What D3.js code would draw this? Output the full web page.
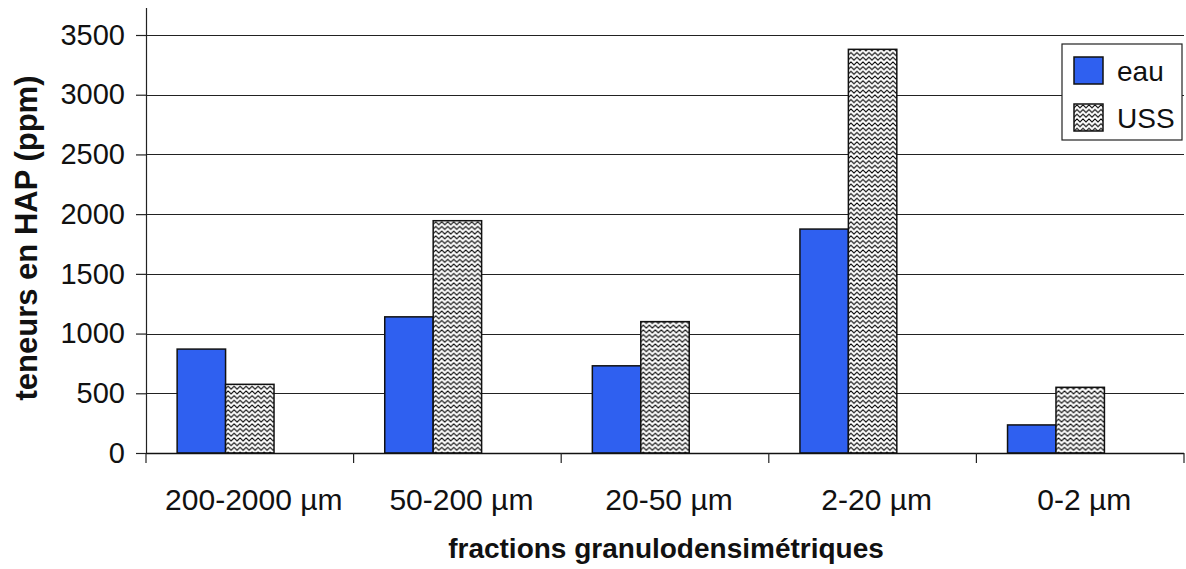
<!DOCTYPE html>
<html>
<head>
<meta charset="utf-8">
<script src="https://cdn.jsdelivr.net/npm/d3@7"></script>
<style>
    body { margin: 0; background: #fff; }
    text { font-family: "Liberation Sans", Arial, sans-serif; fill: #111; }
</style>
</head>
<body>
<div id="chart"></div>
<script>
// data
var categories = ["200-2000 µm", "50-200 µm", "20-50 µm", "2-20 µm", "0-2 µm"];
var seriesNames = ["eau", "USS"];
var eauValues = [870, 1140, 730, 1875, 235];
var ussValues = [575, 1945, 1100, 3380, 550];
var yTicks = [0, 500, 1000, 1500, 2000, 2500, 3000, 3500];

var width = 1186, height = 569;
var margin = {top: 35, right: 2, bottom: 116, left: 146};

var svg = d3.select("#chart").append("svg")
    .attr("width", width)
    .attr("height", height);

// zigzag hatch used by the USS series
var defs = svg.append("defs");
var pat = defs.append("pattern")
    .attr("id", "zigzag")
    .attr("patternUnits", "userSpaceOnUse")
    .attr("width", 6)
    .attr("height", 4.7);
pat.append("rect").attr("width", 6).attr("height", 4.7).attr("fill", "#fff");
pat.append("path")
    .attr("d", "M-1.5,2.45 L0,3.9 L3,0.9 L6,3.9 L7.5,2.45")
    .attr("fill", "none")
    .attr("stroke", "#000")
    .attr("stroke-width", 1.1)
    .attr("stroke-linejoin", "round");

var fills = {"eau": "#2f60f0", "USS": "url(#zigzag)"};

var data = categories.map(function (c, i) {
    return {cat: c, values: [{key: "eau", v: eauValues[i]}, {key: "USS", v: ussValues[i]}]};
});

var x0 = d3.scaleBand()
    .domain(categories)
    .range([margin.left, width - margin.right])
    .paddingInner(0.3)
    .paddingOuter(0.15);

// three slots per group, the last one stays empty like in the original sheet
var x1 = d3.scaleBand()
    .domain(seriesNames.concat(["_"]))
    .range([0, x0.bandwidth()]);

var y = d3.scaleLinear()
    .domain([0, 3500])
    .range([height - margin.bottom, margin.top]);

var step = x0.step();
var plotLeft = margin.left, plotRight = width - margin.right;

//horizontal grid lines
svg.append("g")
    .attr("class", "grid")
    .selectAll("line")
    .data(yTicks.filter(function (d) { return d > 0; }))
    .enter()
    .append("line")
    .attr("x1", plotLeft)
    .attr("x2", plotRight)
    .attr("y1", function (d) { return Math.round(y(d)) + 0.5; })
    .attr("y2", function (d) { return Math.round(y(d)) + 0.5; })
    .attr("stroke", "#222")
    .attr("stroke-width", 1.2);

//bars
var group = svg.append("g").attr("id", "bars")
    .selectAll("g")
    .data(data)
    .enter()
    .append("g")
    .attr("transform", function (d) { return "translate(" + x0(d.cat) + ",0)"; });

group.selectAll("rect")
    .data(function (d) { return d.values; })
    .enter()
    .append("rect")
    .attr("x", function (d) { return x1(d.key); })
    .attr("y", function (d) { return y(d.v); })
    .attr("width", x1.bandwidth())
    .attr("height", function (d) { return y(0) - y(d.v); })
    .attr("fill", function (d) { return fills[d.key]; })
    .attr("stroke", "#111")
    .attr("stroke-width", 1.5);

// y axis
var yAxis = d3.axisLeft(y)
    .tickValues(yTicks)
    .tickFormat(d3.format("d"))
    .tickSize(10)
    .tickPadding(11);
var gy = svg.append("g")
    .attr("transform", "translate(" + plotLeft + ",0)")
    .call(yAxis);
gy.select(".domain").remove();
gy.selectAll("line").attr("stroke", "#222").attr("stroke-width", 1.2);
gy.selectAll("text")
    .attr("font-size", 29)
    .attr("fill", "#111")
    .style("font-family", "'Liberation Sans', Arial, sans-serif");
svg.append("line")
    .attr("x1", plotLeft + 0.5).attr("x2", plotLeft + 0.5)
    .attr("y1", 8).attr("y2", y(0))
    .attr("stroke", "#222").attr("stroke-width", 1.2);

// x axis: ticks at category boundaries, labels centred
var xb = svg.append("g").attr("id", "xaxis");
xb.append("line")
    .attr("x1", plotLeft).attr("x2", plotRight)
    .attr("y1", y(0) + 0.5).attr("y2", y(0) + 0.5)
    .attr("stroke", "#111").attr("stroke-width", 1.5);
xb.selectAll("line.tick")
    .data(d3.range(categories.length + 1))
    .enter()
    .append("line")
    .attr("class", "tick")
    .attr("x1", function (i) { return plotLeft + i * step; })
    .attr("x2", function (i) { return plotLeft + i * step; })
    .attr("y1", y(0))
    .attr("y2", y(0) + 10)
    .attr("stroke", "#222").attr("stroke-width", 1.2);
xb.selectAll("text")
    .data(categories)
    .enter()
    .append("text")
    .attr("x", function (d) { return x0(d) + x0.bandwidth() / 2 + 4; })
    .attr("y", 510)
    .attr("text-anchor", "middle")
    .attr("font-size", 30)
    .text(function (d) { return d; });

// axis titles
svg.append("text")
    .attr("x", 666)
    .attr("y", 558)
    .attr("text-anchor", "middle")
    .attr("font-size", 28)
    .attr("font-weight", "bold")
    .text("fractions granulodensimétriques");

svg.append("text")
    .attr("transform", "translate(37," + 238 + ") rotate(-90)")
    .attr("text-anchor", "middle")
    .attr("font-size", 31)
    .attr("font-weight", "bold")
    .text("teneurs en HAP (ppm)");

// legend
var lg = svg.append("g").attr("id", "legend").attr("transform", "translate(1062,44)");
lg.append("rect")
    .attr("width", 120)
    .attr("height", 96)
    .attr("fill", "#fff")
    .attr("stroke", "#222")
    .attr("stroke-width", 1.2);
var item = lg.selectAll("g.item")
    .data(seriesNames)
    .enter()
    .append("g")
    .attr("class", "item")
    .attr("transform", function (d, i) { return "translate(12," + (13 + i * 47) + ")"; });
item.append("rect")
    .attr("width", 29)
    .attr("height", 27)
    .attr("fill", function (d) { return fills[d]; })
    .attr("stroke", "#111")
    .attr("stroke-width", 1.5);
item.append("text")
    .attr("x", 43)
    .attr("y", 24)
    .attr("font-size", 28)
    .text(function (d) { return d; });
</script>
</body>
</html>
